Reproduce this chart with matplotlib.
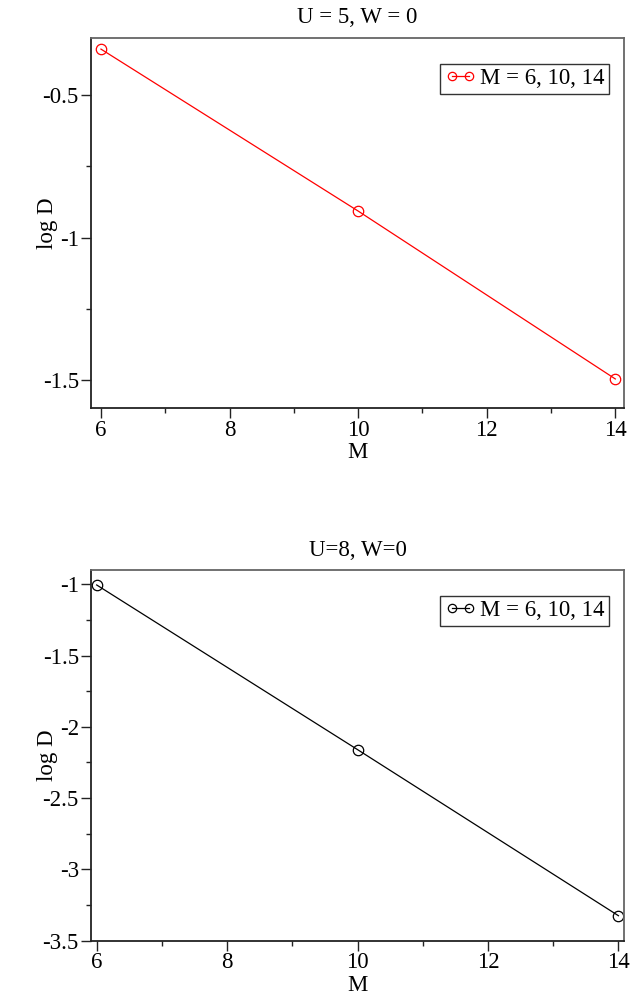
import matplotlib
matplotlib.use("Agg")
import matplotlib.pyplot as plt
from matplotlib.ticker import MultipleLocator

plt.rcParams['font.family'] = ['Liberation Serif', 'DejaVu Serif']

# Data
M_values = [6, 10, 14]
logD_u5 = [-0.338, -0.907, -1.497]
logD_u8 = [-1.005, -2.16, -3.325]
legend_label = "M = 6, 10, 14"
titles = ["U = 5, W = 0", "U=8, W=0"]

fig = plt.figure(figsize=(6.31, 9.97), dpi=100)

ax1 = fig.add_axes([0.1437, 0.5905, 0.8457, 0.3711])
ax2 = fig.add_axes([0.1437, 0.0565, 0.8457, 0.3718])

FS = 16.5


def style(ax, xlim, ylim):
    ax.set_xlim(*xlim)
    ax.set_ylim(*ylim)
    ax.xaxis.set_major_locator(MultipleLocator(2))
    ax.xaxis.set_minor_locator(MultipleLocator(1))
    ax.yaxis.set_major_locator(MultipleLocator(0.5))
    ax.yaxis.set_minor_locator(MultipleLocator(0.25))
    ax.yaxis.set_major_formatter(plt.FuncFormatter(lambda v, p: '%g' % v))
    ax.tick_params(axis='both', which='major', direction='out', length=7,
                   width=1.0, labelsize=FS, top=False, right=False, pad=1.5,
                   color='#222222')
    ax.tick_params(axis='both', which='minor', direction='out', length=3.5,
                   width=1.0, top=False, right=False, color='#222222')
    for s in ['top', 'right']:
        ax.spines[s].set_color('#666666')
        ax.spines[s].set_linewidth(1.3)
    for s in ['left', 'bottom']:
        ax.spines[s].set_color('#222222')
        ax.spines[s].set_linewidth(1.3)
    ax.set_xlabel('M', fontsize=FS, labelpad=1)
    ax.set_ylabel('log D', fontsize=FS)
    ax.yaxis.set_label_coords(-0.062, 0.5)


style(ax1, (5.84, 14.14), (-1.6, -0.3))
style(ax2, (5.908, 14.09), (-3.5, -0.9))

for ax, y, col, title, tpad in [(ax1, logD_u5, 'red', titles[0], 11),
                                (ax2, logD_u8, 'black', titles[1], 10)]:
    ax.plot(M_values, y, color=col, lw=0.9, marker='o', markersize=7.5,
            markerfacecolor='none', markeredgecolor=col, markeredgewidth=0.9,
            label=legend_label, clip_on=False)
    ax.set_title(title, fontsize=FS, pad=tpad)
    leg = ax.legend(loc='upper right', bbox_to_anchor=(0.972, 0.931),
                    fontsize=FS, numpoints=2, handlelength=1.35,
                    markerscale=0.8, handletextpad=0.2, borderpad=0.2,
                    borderaxespad=0.0, fancybox=False, framealpha=1.0)
    leg.get_frame().set_edgecolor('#333333')
    leg.get_frame().set_linewidth(1.0)

fig.savefig('out.png', dpi=100)
